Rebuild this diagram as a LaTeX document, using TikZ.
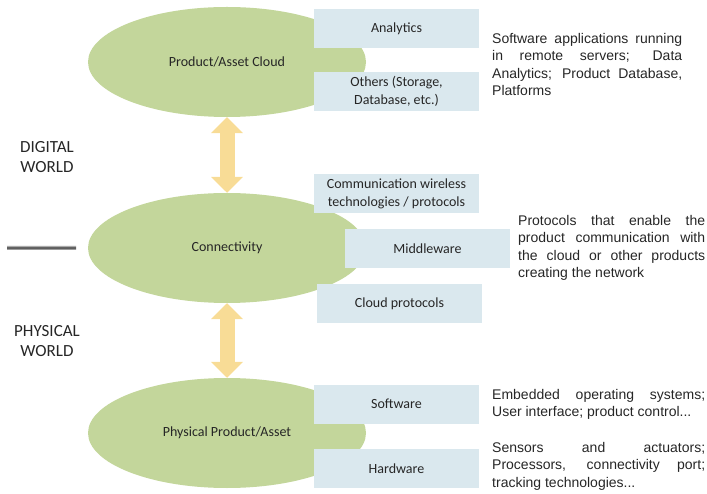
\documentclass[tikz,border=0pt]{standalone}
\usepackage{fontspec}
\setmainfont{Carlito}
\newfontfamily\arialfont{Liberation Sans}
\usepackage{tikz}
\usetikzlibrary{positioning, calc}
\usetikzlibrary{arrows.meta}
\usetikzlibrary{shapes.geometric}
\definecolor{ellgreen}{HTML}{C3D69B}
\definecolor{boxblue}{HTML}{DAE8EE}
\definecolor{arrowgold}{HTML}{F8DC96}
\definecolor{inktext}{HTML}{262626}

\begin{document}
\begin{tikzpicture}[x=1pt,y=-1pt,text=inktext]
	\def \toprow{62}
	\def \midrow{248}
	\def \botrow{433}
	\tikzstyle{e-node}=[ellipse,fill=ellgreen,minimum width=278pt,minimum height=110pt,inner sep=0pt,font=\fontsize{14}{18}\selectfont]
	\tikzstyle{b-node}=[rectangle,fill=boxblue,minimum width=165pt,minimum height=39pt,inner sep=0pt,align=center,font=\fontsize{14}{18}\selectfont]
	\tikzstyle{annot}=[inner sep=0pt,anchor=west,align=justify,font=\arialfont\fontsize{14}{17.5}\selectfont]
	\tikzstyle{world}=[inner sep=0pt,align=center,font=\fontsize{17}{20}\selectfont]
	\tikzstyle{bigarrow}=[draw=arrowgold,line width=15pt,{Triangle[width=31pt,length=16pt]}-{Triangle[width=31pt,length=16pt]}]
	\useasboundingbox (0,0) rectangle (707,494);

	% world labels
	\node[world] (digital)	at (47,157)	{DIGITAL\\WORLD};
	\node[world] (physical)	at (47,341.5)	{PHYSICAL\\WORLD};
	\shade[top color=gray!10,bottom color=gray!30,middle color=black!75] (7,245) rectangle (76,250);

	% layers
	\node[e-node] 	(e0)	at (227,\toprow)	{Product/Asset Cloud};
	\node[e-node] 	(e1)	at (227,\midrow)	{Connectivity};
	\node[e-node] 	(e2)	at (227,\botrow)	{Physical Product/Asset};

	% components
	\node[b-node] 	(b0)	at (396.5,28.5)		{Analytics};
	\node[b-node] 	(b1)	at (396.5,91.5)		{Others (Storage,\\Database, etc.)};
	\node[b-node] 	(b2)	at (396.5,194)		{Communication wireless\\technologies / protocols};
	\node[b-node] 	(b3)	at (427.5,248.5)	{Middleware};
	\node[b-node] 	(b4)	at (399.5,304)		{Cloud protocols};
	\node[b-node] 	(b5)	at (396.5,404)		{Software};
	\node[b-node] 	(b6)	at (396.5,468.5)	{Hardware};

	% descriptions
	\node[annot,text width=190pt] 	(a0)	at (492,64.5)
		{Software applications running\linebreak in remote servers; Data\linebreak Analytics; Product Database,\linebreak Platforms};
	\node[annot,text width=187pt] 	(a1)	at (518,248)
		{Protocols that enable the\linebreak product communication with\linebreak the cloud or other products\linebreak creating the network};
	\node[annot,text width=213pt] 	(a2)	at (492,404.5)
		{Embedded operating systems;\linebreak User interface; product control...};
	\node[annot,text width=213pt] 	(a3)	at (492,466)
		{Sensors and actuators;\linebreak Processors, connectivity port;\linebreak tracking technologies...};

	\path
		(e0)	edge[bigarrow]	(e1)
		(e1)	edge[bigarrow]	(e2);
\end{tikzpicture}
\end{document}
